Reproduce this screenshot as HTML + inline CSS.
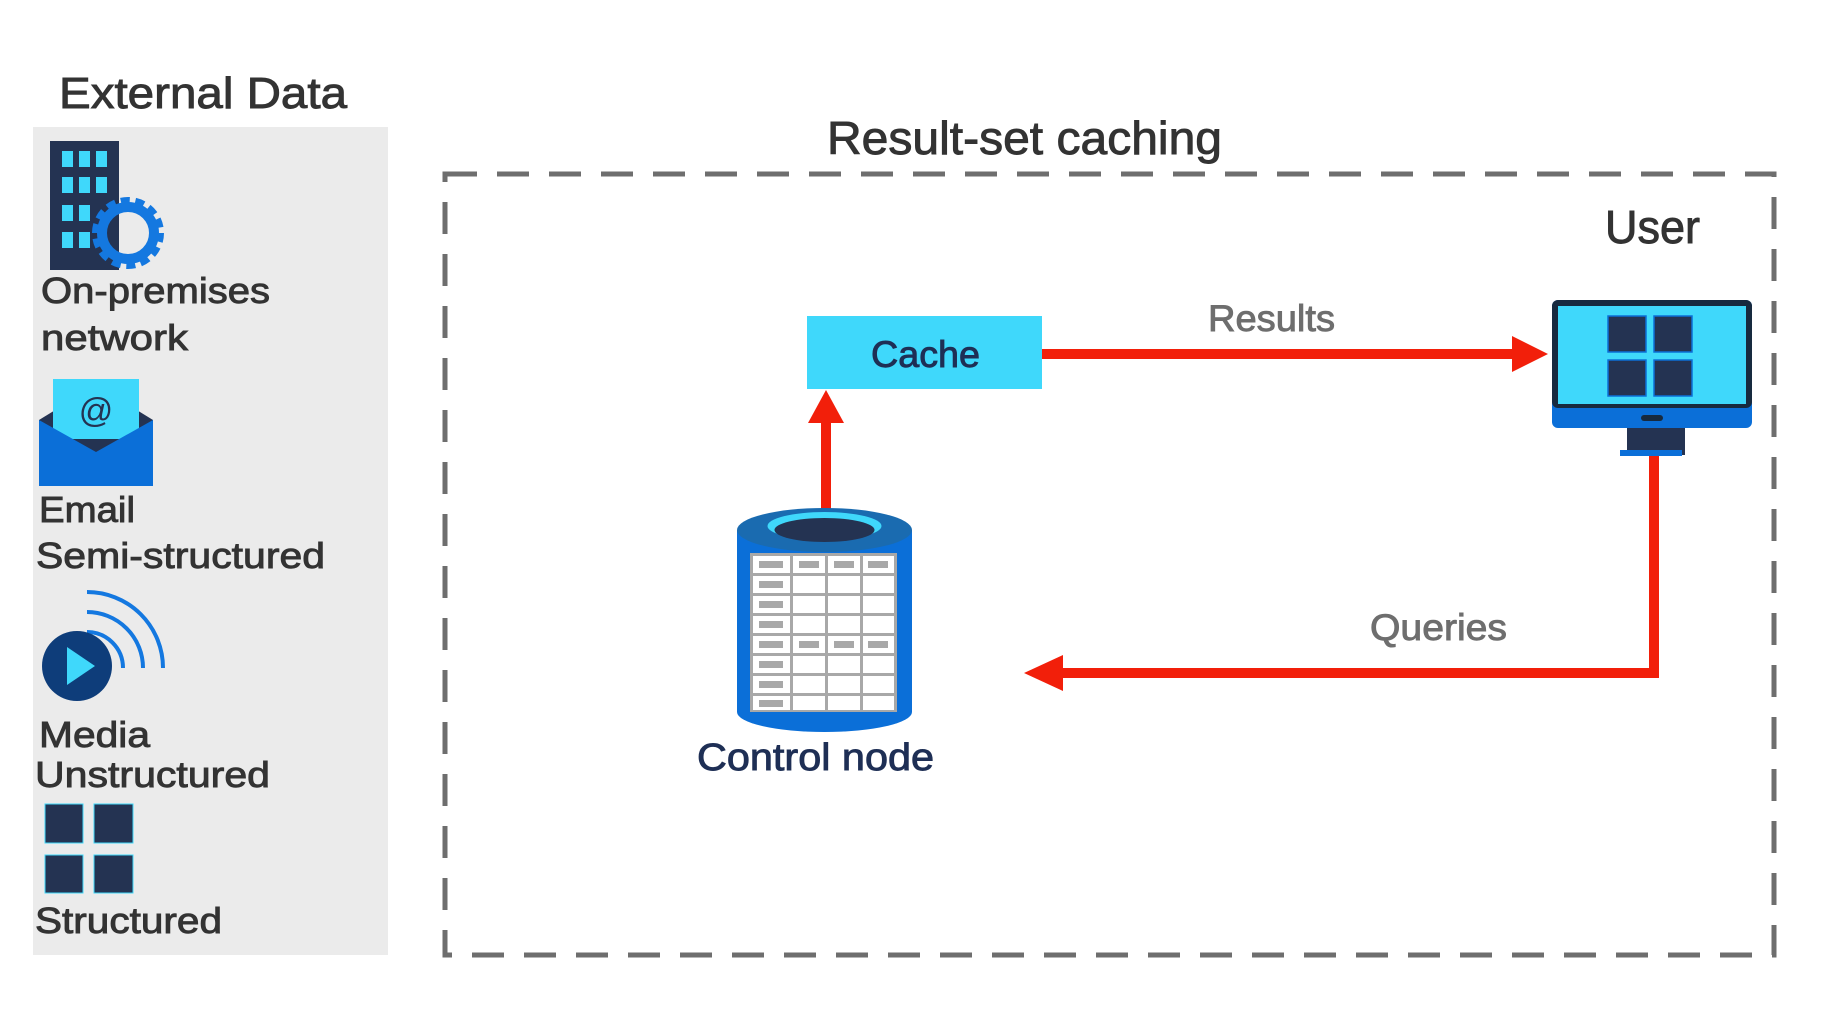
<!DOCTYPE html>
<html><head><meta charset="utf-8"><style>
html,body{margin:0;padding:0;background:#fff;}
svg{display:block;}
text{font-family:"Liberation Sans",sans-serif;stroke-width:0.9;}
</style></head><body>
<svg width="1840" height="1021" viewBox="0 0 1840 1021" xmlns="http://www.w3.org/2000/svg">
<rect width="1840" height="1021" fill="#fff"/>
<!-- left panel -->
<text x="59" y="108" font-size="44" fill="#333" stroke="#333" textLength="288" lengthAdjust="spacingAndGlyphs">External Data</text>
<rect x="33" y="127" width="355" height="828" fill="#ebebeb"/>
<!-- building -->
<rect x="50" y="141" width="69" height="129" fill="#243352"/>
<g fill="#3fd8fb">
<rect x="62" y="151" width="11" height="16"/><rect x="79" y="151" width="11" height="16"/><rect x="96" y="151" width="11" height="16"/>
<rect x="62" y="177" width="11" height="16"/><rect x="79" y="177" width="11" height="16"/><rect x="96" y="177" width="11" height="16"/>
<rect x="62" y="205" width="11" height="16"/><rect x="79" y="205" width="11" height="16"/>
<rect x="62" y="232" width="11" height="16"/><rect x="79" y="232" width="11" height="16"/>
</g>
<circle cx="128" cy="233" r="29" fill="none" stroke="#1478e0" stroke-width="14" stroke-dasharray="8 5"/>
<circle cx="128" cy="233" r="26" fill="none" stroke="#1478e0" stroke-width="10"/>
<text x="41" y="303" font-size="36" fill="#333" stroke="#333" textLength="229" lengthAdjust="spacingAndGlyphs">On-premises</text>
<text x="41" y="350" font-size="36" fill="#333" stroke="#333" textLength="147" lengthAdjust="spacingAndGlyphs">network</text>
<!-- email -->
<polygon points="39,420 96,385 153,420 153,486 39,486" fill="#243352"/>
<rect x="53" y="379" width="86" height="60" fill="#3fd8fb"/>
<polygon points="39,420 96,452 153,420 153,486 39,486" fill="#0b6fd8"/>
<text x="96" y="422" font-size="34" fill="#243352" text-anchor="middle">@</text>
<text x="39" y="522" font-size="36" fill="#333" stroke="#333" textLength="96" lengthAdjust="spacingAndGlyphs">Email</text>
<text x="36" y="568" font-size="36" fill="#333" stroke="#333" textLength="289" lengthAdjust="spacingAndGlyphs">Semi-structured</text>
<!-- media -->
<g fill="none" stroke="#1478e0" stroke-width="4">
<path d="M87,592 A76,76 0 0 1 163,668"/>
<path d="M87,612 A56,56 0 0 1 143,668"/>
<path d="M87,632 A36,36 0 0 1 123,668"/>
</g>
<circle cx="77" cy="666" r="35" fill="#0e3d7a"/>
<polygon points="67,647 67,685 95,666" fill="#3fd8fb"/>
<text x="39" y="747" font-size="36" fill="#333" stroke="#333" textLength="111" lengthAdjust="spacingAndGlyphs">Media</text>
<text x="35" y="787" font-size="36" fill="#333" stroke="#333" textLength="235" lengthAdjust="spacingAndGlyphs">Unstructured</text>
<!-- structured -->
<g fill="#243352" stroke="#3fd8fb" stroke-width="1">
<rect x="45" y="804" width="38" height="39"/><rect x="94" y="804" width="39" height="39"/>
<rect x="45" y="855" width="38" height="38"/><rect x="94" y="855" width="39" height="38"/>
</g>
<text x="35" y="933" font-size="36" fill="#333" stroke="#333" textLength="187" lengthAdjust="spacingAndGlyphs">Structured</text>
<!-- dashed box -->
<rect x="445" y="174" width="1329" height="781" fill="none" stroke="#6e6e6e" stroke-width="5" stroke-dasharray="32 20"/>
<text x="827" y="154" font-size="46" fill="#333" stroke="#333" textLength="395" lengthAdjust="spacingAndGlyphs">Result-set caching</text>
<text x="1605" y="243" font-size="46" fill="#333" stroke="#333" textLength="95" lengthAdjust="spacingAndGlyphs">User</text>
<!-- cache -->
<rect x="807" y="316" width="235" height="73" fill="#3fd8fb"/>
<text x="871" y="367" font-size="37" fill="#1e2f55" stroke="#1e2f55" textLength="109" lengthAdjust="spacingAndGlyphs">Cache</text>
<!-- results arrow -->
<rect x="1042" y="349" width="474" height="10" fill="#f21f0a"/>
<polygon points="1512,336 1548,354 1512,372" fill="#f21f0a"/>
<text x="1208" y="331" font-size="37" fill="#6e6e6e" stroke="#6e6e6e" textLength="127" lengthAdjust="spacingAndGlyphs">Results</text>
<!-- up arrow -->
<rect x="821" y="420" width="10" height="90" fill="#f21f0a"/>
<polygon points="808,423 826,390 844,423" fill="#f21f0a"/>
<!-- queries -->
<rect x="1649" y="455" width="10" height="223" fill="#f21f0a"/>
<rect x="1060" y="668" width="599" height="10" fill="#f21f0a"/>
<polygon points="1063,655 1024,673 1063,691" fill="#f21f0a"/>
<text x="1370" y="640" font-size="37" fill="#6e6e6e" stroke="#6e6e6e" textLength="137" lengthAdjust="spacingAndGlyphs">Queries</text>
<!-- monitor -->
<rect x="1627" y="420" width="58" height="35" fill="#243352"/>
<rect x="1620" y="450" width="62" height="6" fill="#0b6fd8"/>
<rect x="1552" y="300" width="200" height="128" rx="6" fill="#0b6fd8"/>
<rect x="1552" y="300" width="200" height="108" rx="6" fill="#172a3f"/>
<rect x="1558" y="306" width="188" height="98" fill="#3fd8fb"/>
<rect x="1641" y="415" width="22" height="6" rx="3" fill="#172a3f"/>
<g fill="#243352" stroke="#0b6fd8" stroke-width="1.5">
<rect x="1608" y="316" width="38" height="36"/><rect x="1654" y="316" width="38" height="36"/>
<rect x="1608" y="360" width="38" height="36"/><rect x="1654" y="360" width="38" height="36"/>
</g>
<!-- cylinder -->
<path d="M737,530 L737,712 A87.5,20 0 0 0 912,712 L912,530 Z" fill="#0b6fd8"/>
<ellipse cx="824.5" cy="530" rx="87.5" ry="22" fill="#1a6bb0"/>
<ellipse cx="824.5" cy="526" rx="57" ry="14" fill="#3fd8fb"/>
<ellipse cx="824.5" cy="530" rx="50" ry="12" fill="#243352"/>
<rect x="750" y="553" width="147" height="159" fill="#a8a8a8"/>
<g fill="#fff">
<rect x="753" y="556" width="37" height="17"/><rect x="793" y="556" width="32" height="17"/><rect x="828" y="556" width="32" height="17"/><rect x="863" y="556" width="31" height="17"/>
<rect x="753" y="576" width="37" height="17"/><rect x="793" y="576" width="32" height="17"/><rect x="828" y="576" width="32" height="17"/><rect x="863" y="576" width="31" height="17"/>
<rect x="753" y="596" width="37" height="17"/><rect x="793" y="596" width="32" height="17"/><rect x="828" y="596" width="32" height="17"/><rect x="863" y="596" width="31" height="17"/>
<rect x="753" y="616" width="37" height="17"/><rect x="793" y="616" width="32" height="17"/><rect x="828" y="616" width="32" height="17"/><rect x="863" y="616" width="31" height="17"/>
<rect x="753" y="636" width="37" height="17"/><rect x="793" y="636" width="32" height="17"/><rect x="828" y="636" width="32" height="17"/><rect x="863" y="636" width="31" height="17"/>
<rect x="753" y="656" width="37" height="17"/><rect x="793" y="656" width="32" height="17"/><rect x="828" y="656" width="32" height="17"/><rect x="863" y="656" width="31" height="17"/>
<rect x="753" y="676" width="37" height="17"/><rect x="793" y="676" width="32" height="17"/><rect x="828" y="676" width="32" height="17"/><rect x="863" y="676" width="31" height="17"/>
<rect x="753" y="696" width="37" height="14"/><rect x="793" y="696" width="32" height="14"/><rect x="828" y="696" width="32" height="14"/><rect x="863" y="696" width="31" height="14"/>
</g>
<g fill="#a8a8a8">
<rect x="759" y="561" width="24" height="7"/><rect x="799" y="561" width="20" height="7"/><rect x="834" y="561" width="20" height="7"/><rect x="868" y="561" width="20" height="7"/>
<rect x="759" y="581" width="24" height="7"/><rect x="759" y="601" width="24" height="7"/><rect x="759" y="621" width="24" height="7"/>
<rect x="759" y="641" width="24" height="7"/><rect x="799" y="641" width="20" height="7"/><rect x="834" y="641" width="20" height="7"/><rect x="868" y="641" width="20" height="7"/>
<rect x="759" y="661" width="24" height="7"/><rect x="759" y="681" width="24" height="7"/><rect x="759" y="700" width="24" height="7"/>
</g>
<text x="697" y="770" font-size="38" fill="#1e2f55" stroke="#1e2f55" textLength="237" lengthAdjust="spacingAndGlyphs">Control node</text>
</svg>
</body></html>
